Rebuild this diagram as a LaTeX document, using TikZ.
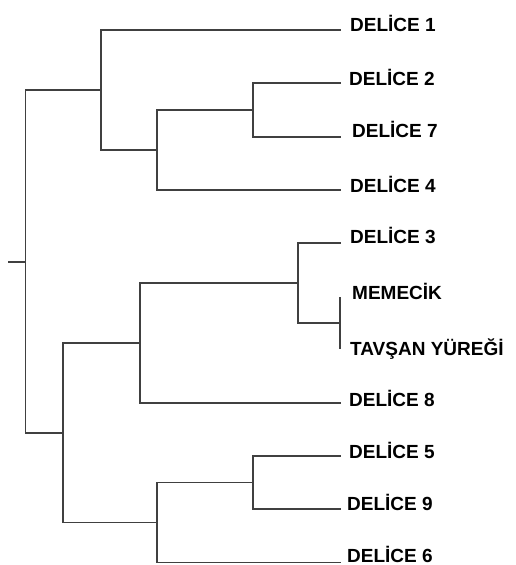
\documentclass[tikz,border=0pt]{standalone}
\usepackage{fontspec}
\setmainfont{Liberation Sans}
\begin{document}
\begin{tikzpicture}[x=1pt,y=-1pt,
  edge/.style={draw=black!75,line width=1.1pt,line cap=rect},
  leaf/.style={anchor=base west,inner sep=0pt,font=\fontsize{19}{19}\selectfont\bfseries,text=black}]
\useasboundingbox (0,0) rectangle (515,565);
% internal nodes
\coordinate (stub) at (9,262);
\coordinate (r) at (25.5,262);
\coordinate (u) at (101,90);
\coordinate (u2) at (157,150);
\coordinate (u3) at (253,110);
\coordinate (l) at (63,433);
\coordinate (l1) at (140,343);
\coordinate (l3) at (298,283);
\coordinate (l4) at (340,323);
\coordinate (l2) at (157,522.5);
\coordinate (l5) at (253,482.5);
% leaf tips
\coordinate (t1) at (340,30);
\coordinate (t2) at (340,83);
\coordinate (t7) at (340,137);
\coordinate (t4) at (340,190);
\coordinate (t3) at (340,243);
\coordinate (tm) at (340,298);
\coordinate (tt) at (340,348);
\coordinate (t8) at (340,403);
\coordinate (t5) at (340,456);
\coordinate (t9) at (340,509);
\coordinate (t6) at (340,562.5);
% labels
\node[leaf] (n1) at (350,31.5) {DELİCE 1};
\node[leaf] (n2) at (349,85) {DELİCE 2};
\node[leaf] (n7) at (352,137.5) {DELİCE 7};
\node[leaf] (n4) at (350,192) {DELİCE 4};
\node[leaf] (n3) at (350,243.5) {DELİCE 3};
\node[leaf] (nm) at (352,299) {MEMECİK};
\node[leaf] (nt) at (350,355) {TAVŞAN YÜREĞİ};
\node[leaf] (n8) at (349,406) {DELİCE 8};
\node[leaf] (n5) at (349,458) {DELİCE 5};
\node[leaf] (n9) at (347,510) {DELİCE 9};
\node[leaf] (n6) at (347,562.5) {DELİCE 6};
% edges
\draw[edge] (stub) -- (r);
\draw[edge] (r) |- (u);
\draw[edge] (r) |- (l);
\draw[edge] (u) |- (t1);
\draw[edge] (u) |- (u2);
\draw[edge] (u2) |- (u3);
\draw[edge] (u2) |- (t4);
\draw[edge] (u3) |- (t2);
\draw[edge] (u3) |- (t7);
\draw[edge] (l) |- (l1);
\draw[edge] (l) |- (l2);
\draw[edge] (l1) |- (l3);
\draw[edge] (l1) |- (t8);
\draw[edge] (l3) |- (t3);
\draw[edge] (l3) |- (l4);
\draw[edge] (tm) -- (tt);
\draw[edge] (l2) |- (l5);
\draw[edge] (l2) |- (t6);
\draw[edge] (l5) |- (t5);
\draw[edge] (l5) |- (t9);
\end{tikzpicture}
\end{document}
